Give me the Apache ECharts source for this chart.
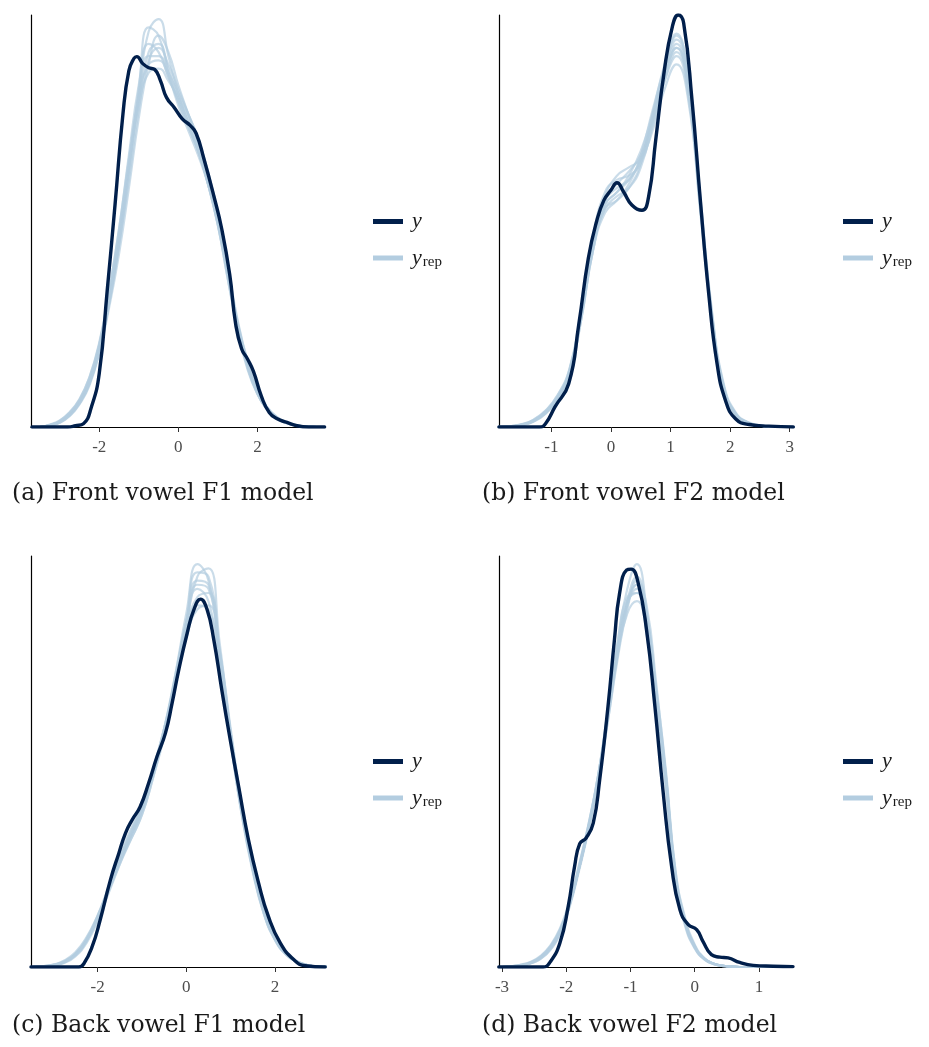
<!DOCTYPE html>
<html>
<head>
<meta charset="utf-8">
<title>Posterior predictive density overlays</title>
<script src="https://cdn.jsdelivr.net/npm/echarts@6/dist/echarts.min.js"></script>
<style>
  html, body { margin: 0; padding: 0; background: #ffffff; }
  #chart { width: 929px; height: 1047px; }
</style>
</head>
<body>
<div id="chart"></div>
<script>
// ---------- Panel (a): front vowel F1 ----------
const xA_obs = [-3.7,-2.8,-2.6,-2.4,-2.2,-2.0,-1.8,-1.6,-1.4,-1.25,-1.12,-1.05,-0.9,-0.75,-0.6,-0.45,-0.3,-0.1,0.1,0.3,0.45,0.65,0.9,1.1,1.3,1.45,1.6,1.75,1.9,2.1,2.3,2.5,2.75,3.0,3.3,3.7];
const dA_obs = [0,0,0.003,0.008,0.048,0.13,0.33,0.54,0.76,0.865,0.895,0.899,0.882,0.872,0.868,0.84,0.80,0.775,0.748,0.732,0.713,0.65,0.56,0.48,0.37,0.25,0.19,0.165,0.135,0.075,0.035,0.02,0.011,0.003,0,0];
const gridA = [-3.5,-3.25,-3.0,-2.75,-2.5,-2.25,-2.0,-1.75,-1.5,-1.25,-1.0,-0.75,-0.5,-0.25,0,0.25,0.5,0.75,1.0,1.25,1.5,1.75,2.0,2.25,2.5,2.75,3.0,3.25,3.5];
const repA = [
  [0,0.004,0.012,0.03,0.06,0.11,0.19,0.31,0.45,0.62,0.79,0.91,0.93,0.87,0.80,0.74,0.68,0.60,0.50,0.37,0.245,0.15,0.085,0.045,0.022,0.01,0.004,0.001,0],
  [0,0.003,0.01,0.026,0.055,0.10,0.18,0.30,0.44,0.62,0.81,0.96,0.99,0.90,0.81,0.74,0.67,0.59,0.49,0.37,0.25,0.155,0.088,0.046,0.022,0.01,0.004,0.001,0],
  [0,0.006,0.016,0.036,0.068,0.12,0.20,0.32,0.47,0.64,0.78,0.86,0.87,0.84,0.80,0.75,0.69,0.61,0.51,0.38,0.25,0.15,0.083,0.043,0.021,0.009,0.003,0.001,0],
  [0,0.004,0.013,0.032,0.063,0.115,0.20,0.33,0.48,0.66,0.83,0.93,0.91,0.85,0.79,0.73,0.67,0.59,0.49,0.36,0.235,0.14,0.08,0.042,0.02,0.009,0.003,0.001,0],
  [0,0.003,0.011,0.028,0.058,0.105,0.18,0.29,0.42,0.58,0.75,0.88,0.95,0.91,0.83,0.76,0.69,0.61,0.51,0.38,0.255,0.16,0.09,0.048,0.024,0.011,0.004,0.001,0],
  [0,0.005,0.014,0.033,0.064,0.115,0.195,0.31,0.46,0.63,0.80,0.90,0.90,0.86,0.81,0.76,0.70,0.62,0.51,0.375,0.245,0.145,0.08,0.042,0.02,0.009,0.003,0.001,0],
  [0,0.004,0.012,0.029,0.058,0.105,0.185,0.30,0.45,0.63,0.82,0.97,0.95,0.86,0.78,0.72,0.66,0.59,0.50,0.375,0.25,0.155,0.087,0.046,0.022,0.01,0.004,0.001,0],
  [0,0.004,0.011,0.028,0.057,0.105,0.185,0.30,0.44,0.60,0.77,0.89,0.92,0.88,0.82,0.76,0.70,0.62,0.52,0.39,0.26,0.16,0.09,0.047,0.023,0.01,0.004,0.001,0],
  [0,0.005,0.015,0.035,0.066,0.12,0.205,0.33,0.48,0.65,0.80,0.88,0.89,0.85,0.79,0.73,0.67,0.59,0.49,0.36,0.24,0.145,0.082,0.043,0.021,0.009,0.003,0.001,0]
];
const ticksA = [-2, 0, 2];

// ---------- Panel (b): front vowel F2 ----------
const xB_obs = [-1.88,-1.2,-1.1,-0.94,-0.71,-0.54,-0.38,-0.24,-0.12,0,0.1,0.21,0.35,0.52,0.63,0.75,0.89,1.03,1.13,1.22,1.36,1.5,1.64,1.78,1.92,2.09,2.32,2.65,3.06];
const dB_obs = [0,0,0.008,0.049,0.105,0.25,0.41,0.50,0.55,0.575,0.593,0.571,0.539,0.526,0.558,0.696,0.86,0.972,1.0,0.98,0.793,0.55,0.324,0.154,0.065,0.02,0.006,0.002,0];
const gridB = [-1.9,-1.7,-1.5,-1.3,-1.1,-0.9,-0.7,-0.5,-0.3,-0.1,0.1,0.3,0.5,0.7,0.9,1.1,1.3,1.5,1.7,1.9,2.1,2.3,2.5,2.7,2.9,3.1];
const repB = [
  [0,0.001,0.005,0.015,0.035,0.07,0.13,0.27,0.44,0.54,0.57,0.60,0.65,0.75,0.86,0.93,0.82,0.54,0.26,0.09,0.03,0.01,0.004,0.001,0,0],
  [0,0.002,0.007,0.018,0.04,0.077,0.14,0.28,0.45,0.55,0.59,0.62,0.66,0.74,0.84,0.90,0.80,0.53,0.265,0.095,0.032,0.011,0.004,0.001,0,0],
  [0,0.001,0.004,0.013,0.032,0.066,0.125,0.26,0.43,0.53,0.55,0.58,0.64,0.76,0.88,0.955,0.84,0.545,0.255,0.088,0.029,0.01,0.003,0.001,0,0],
  [0,0.002,0.006,0.016,0.037,0.072,0.135,0.28,0.46,0.57,0.60,0.61,0.64,0.73,0.84,0.91,0.82,0.55,0.27,0.095,0.031,0.011,0.004,0.001,0,0],
  [0,0.001,0.005,0.014,0.034,0.068,0.128,0.265,0.43,0.52,0.55,0.59,0.66,0.77,0.87,0.94,0.84,0.55,0.26,0.088,0.028,0.009,0.003,0.001,0,0],
  [0,0.001,0.005,0.015,0.036,0.071,0.13,0.27,0.44,0.55,0.58,0.60,0.65,0.75,0.85,0.92,0.83,0.56,0.275,0.1,0.034,0.012,0.004,0.001,0,0],
  [0,0.002,0.006,0.017,0.039,0.075,0.138,0.275,0.45,0.56,0.61,0.63,0.65,0.72,0.82,0.88,0.79,0.52,0.25,0.085,0.028,0.01,0.003,0.001,0,0],
  [0,0.001,0.004,0.014,0.033,0.067,0.126,0.26,0.43,0.53,0.56,0.58,0.63,0.74,0.87,0.95,0.85,0.54,0.255,0.087,0.029,0.01,0.003,0.001,0,0],
  [0,0.001,0.005,0.015,0.035,0.07,0.132,0.27,0.44,0.54,0.57,0.61,0.67,0.76,0.86,0.92,0.81,0.53,0.26,0.09,0.03,0.01,0.004,0.001,0,0]
];
const ticksB = [-1, 0, 1, 2, 3];

// ---------- Panel (c): back vowel F1 ----------
const xC_obs = [-3.5,-2.42,-2.31,-2.12,-1.94,-1.71,-1.52,-1.37,-1.22,-1.04,-0.85,-0.66,-0.47,-0.32,-0.17,0.02,0.17,0.32,0.47,0.62,0.8,0.99,1.18,1.4,1.63,1.85,2.12,2.42,2.68,3.13];
const dC_obs = [0,0,0.008,0.05,0.115,0.212,0.277,0.326,0.358,0.39,0.447,0.512,0.569,0.642,0.723,0.812,0.869,0.895,0.869,0.796,0.674,0.553,0.439,0.31,0.204,0.123,0.058,0.018,0.003,0];
const gridC = [-3.5,-3.25,-3.0,-2.75,-2.5,-2.25,-2.0,-1.75,-1.5,-1.25,-1.0,-0.75,-0.5,-0.25,0,0.25,0.5,0.75,1.0,1.25,1.5,1.75,2.0,2.25,2.5,2.75,3.0,3.25];
const repC = [
  [0,0.001,0.004,0.012,0.03,0.065,0.12,0.19,0.26,0.32,0.38,0.47,0.57,0.70,0.83,0.93,0.92,0.76,0.56,0.38,0.24,0.135,0.07,0.032,0.013,0.004,0.001,0],
  [0,0.002,0.006,0.016,0.036,0.072,0.125,0.19,0.255,0.31,0.37,0.46,0.57,0.71,0.86,0.98,0.94,0.75,0.55,0.37,0.235,0.13,0.067,0.03,0.012,0.004,0.001,0],
  [0,0.001,0.004,0.011,0.028,0.062,0.118,0.195,0.27,0.335,0.39,0.48,0.58,0.70,0.81,0.88,0.87,0.74,0.56,0.39,0.25,0.14,0.072,0.033,0.013,0.004,0.001,0],
  [0,0.001,0.005,0.013,0.031,0.066,0.12,0.185,0.25,0.31,0.37,0.46,0.56,0.69,0.83,0.95,0.97,0.79,0.57,0.38,0.235,0.13,0.066,0.03,0.012,0.004,0.001,0],
  [0,0.002,0.005,0.014,0.033,0.069,0.125,0.195,0.265,0.33,0.39,0.47,0.57,0.70,0.84,0.92,0.89,0.74,0.55,0.375,0.24,0.135,0.07,0.032,0.013,0.004,0.001,0],
  [0,0.001,0.004,0.012,0.029,0.063,0.117,0.185,0.255,0.32,0.38,0.47,0.58,0.71,0.84,0.94,0.93,0.77,0.57,0.385,0.245,0.14,0.072,0.033,0.013,0.004,0.001,0],
  [0,0.001,0.003,0.01,0.026,0.058,0.11,0.18,0.25,0.32,0.39,0.48,0.58,0.69,0.80,0.87,0.88,0.77,0.58,0.395,0.25,0.14,0.073,0.034,0.014,0.005,0.001,0],
  [0,0.002,0.005,0.013,0.031,0.066,0.122,0.19,0.26,0.32,0.38,0.47,0.57,0.70,0.84,0.96,0.95,0.76,0.55,0.37,0.23,0.128,0.065,0.03,0.012,0.004,0.001,0],
  [0,0.001,0.004,0.012,0.03,0.064,0.12,0.19,0.26,0.325,0.385,0.47,0.57,0.70,0.82,0.90,0.91,0.77,0.57,0.385,0.245,0.138,0.071,0.032,0.013,0.004,0.001,0]
];
const ticksC = [-2, 0, 2];

// ---------- Panel (d): back vowel F2 ----------
const xD_obs = [-3.05,-2.36,-2.26,-2.1,-1.97,-1.87,-1.79,-1.69,-1.58,-1.48,-1.35,-1.25,-1.17,-1.06,-0.99,-0.88,-0.75,-0.62,-0.49,-0.36,-0.23,-0.1,0.03,0.13,0.26,0.39,0.52,0.7,0.91,1.22,1.53];
const dD_obs = [0,0,0.01,0.058,0.147,0.245,0.30,0.314,0.35,0.455,0.634,0.796,0.909,0.966,0.968,0.934,0.82,0.634,0.423,0.245,0.139,0.103,0.091,0.062,0.03,0.024,0.022,0.011,0.004,0.002,0.001];
const gridD = [-3.0,-2.85,-2.7,-2.55,-2.4,-2.25,-2.1,-1.95,-1.8,-1.65,-1.5,-1.35,-1.2,-1.05,-0.9,-0.75,-0.6,-0.45,-0.3,-0.15,0,0.15,0.3,0.45,0.6,0.75,0.9,1.05,1.2,1.35,1.5];
const repD = [
  [0,0.001,0.004,0.01,0.022,0.045,0.085,0.15,0.24,0.34,0.46,0.61,0.77,0.89,0.93,0.84,0.66,0.46,0.22,0.11,0.05,0.02,0.008,0.003,0.001,0,0,0,0,0,0],
  [0,0.002,0.005,0.012,0.025,0.05,0.09,0.155,0.245,0.345,0.465,0.62,0.79,0.92,0.98,0.87,0.66,0.44,0.21,0.1,0.045,0.018,0.007,0.002,0.001,0,0,0,0,0,0],
  [0,0.001,0.003,0.009,0.02,0.042,0.082,0.148,0.24,0.345,0.47,0.62,0.76,0.86,0.89,0.82,0.66,0.47,0.235,0.12,0.055,0.022,0.008,0.003,0.001,0,0,0,0,0,0],
  [0,0.001,0.004,0.01,0.023,0.047,0.088,0.152,0.24,0.34,0.455,0.60,0.76,0.89,0.95,0.86,0.67,0.46,0.225,0.11,0.05,0.02,0.008,0.003,0.001,0,0,0,0,0,0],
  [0,0.002,0.006,0.013,0.027,0.052,0.093,0.16,0.25,0.35,0.47,0.62,0.78,0.89,0.91,0.81,0.63,0.44,0.21,0.105,0.048,0.019,0.007,0.002,0.001,0,0,0,0,0,0],
  [0,0.001,0.003,0.009,0.02,0.041,0.08,0.145,0.235,0.335,0.455,0.61,0.77,0.88,0.93,0.86,0.68,0.48,0.235,0.115,0.052,0.021,0.008,0.003,0.001,0,0,0,0,0,0],
  [0,0.001,0.004,0.011,0.024,0.048,0.087,0.15,0.24,0.34,0.46,0.60,0.75,0.87,0.94,0.88,0.69,0.47,0.225,0.11,0.05,0.02,0.008,0.003,0.001,0,0,0,0,0,0],
  [0,0.002,0.005,0.011,0.024,0.047,0.087,0.153,0.245,0.35,0.47,0.63,0.79,0.90,0.91,0.82,0.64,0.45,0.215,0.105,0.047,0.019,0.007,0.002,0.001,0,0,0,0,0,0],
  [0,0.001,0.004,0.01,0.022,0.045,0.085,0.15,0.24,0.34,0.46,0.61,0.765,0.88,0.92,0.85,0.67,0.465,0.225,0.112,0.05,0.02,0.008,0.003,0.001,0,0,0,0,0,0]
];
const ticksD = [-3, -2, -1, 0, 1];

// Sub-figure captions
const captions = ['(a) Front vowel F1 model', '(b) Front vowel F2 model', '(c) Back vowel F1 model', '(d) Back vowel F2 model'];

// ---------- layout & styling ----------
const DARK = '#011f4b';
const LIGHT = '#b3cde0';
const panels = [
  { obsX: xA_obs, obsD: dA_obs, grid: gridA, reps: repA, ticks: ticksA, range: [-3.726, 3.71],  box: { left: 31,  top: 15,  width: 294, height: 412 }, legendLeft: 368, legendTop: 205.5 },
  { obsX: xB_obs, obsD: dB_obs, grid: gridB, reps: repB, ticks: ticksB, range: [-1.88, 3.055], box: { left: 499, top: 15,  width: 294, height: 412 }, legendLeft: 838, legendTop: 205.5 },
  { obsX: xC_obs, obsD: dC_obs, grid: gridC, reps: repC, ticks: ticksC, range: [-3.5, 3.126],  box: { left: 31,  top: 556, width: 294, height: 411 }, legendLeft: 368, legendTop: 745.5 },
  { obsX: xD_obs, obsD: dD_obs, grid: gridD, reps: repD, ticks: ticksD, range: [-3.047, 1.53], box: { left: 499, top: 556, width: 294, height: 411 }, legendLeft: 838, legendTop: 745.5 }
];
const captionPos = [[12, 482], [482, 482], [12, 1014], [482, 1014]];

const grids = [], xAxes = [], yAxes = [], series = [], legends = [];

panels.forEach((p, k) => {
  grids.push(Object.assign({ containLabel: false }, p.box));
  xAxes.push({
    type: 'value', gridIndex: k, min: p.range[0], max: p.range[1],
    axisLine: { show: true, onZero: false, lineStyle: { color: '#000', width: 1.2 } },
    axisTick: { show: true, length: 5, customValues: p.ticks, lineStyle: { color: '#333', width: 1 } },
    axisLabel: {
      show: true, customValues: p.ticks, margin: 12,
      color: '#4d4d4d', fontFamily: 'Liberation Serif', fontSize: 17,
      formatter: v => (v < 0 ? '-' + Math.abs(v) : String(v))
    },
    splitLine: { show: false }
  });
  yAxes.push({
    type: 'value', gridIndex: k, min: 0, max: 1,
    axisLine: { show: true, onZero: false, lineStyle: { color: '#000', width: 1.2 } },
    axisTick: { show: false }, axisLabel: { show: false }, splitLine: { show: false }
  });
  // replicated densities: thin light lines that overlap into a band
  p.reps.forEach(rep => {
    series.push({
      type: 'line', name: 'yrep', xAxisIndex: k, yAxisIndex: k,
      data: p.grid.map((x, i) => [x, rep[i]]),
      showSymbol: false, smooth: 0.5, silent: true,
      color: LIGHT,
      lineStyle: { color: LIGHT, width: 2.2, opacity: 0.7 },
      z: 2
    });
  });
  // observed density on top
  series.push({
    type: 'line', name: 'y', xAxisIndex: k, yAxisIndex: k,
    data: p.obsX.map((x, i) => [x, p.obsD[i]]),
    showSymbol: false, smooth: 0.5, silent: true,
    color: DARK,
    lineStyle: { color: DARK, width: 3.4, cap: 'round', join: 'round' },
    z: 3
  });
  legends.push({
    left: p.legendLeft, top: p.legendTop, orient: 'vertical',
    icon: 'rect', itemWidth: 30, itemHeight: 5, itemGap: 14,
    selectedMode: false,
    itemStyle: { borderWidth: 0 },
    data: [
      { name: 'y', itemStyle: { color: DARK } },
      { name: 'yrep', itemStyle: { color: LIGHT } }
    ],
    formatter: name => (name === 'y' ? '{i|y}' : '{i|y}{s|rep}'),
    textStyle: {
      rich: {
        i: { fontFamily: 'Liberation Serif', fontStyle: 'italic', fontSize: 22, color: '#1a1a1a', lineHeight: 24, padding: [0, 0, 0, 4] },
        s: { fontFamily: 'Liberation Serif', fontSize: 15, color: '#1a1a1a', lineHeight: 24, padding: [8, 0, 0, 1] }
      }
    }
  });
});

const graphics = captions.map((t, k) => ({
  type: 'text', left: captionPos[k][0], top: captionPos[k][1],
  style: { text: t, font: '23.5px "DejaVu Serif"', fill: '#1a1a1a' }
}));

const chart = echarts.init(document.getElementById('chart'), null, { renderer: 'canvas' });
chart.setOption({
  animation: false,
  backgroundColor: '#ffffff',
  grid: grids,
  xAxis: xAxes,
  yAxis: yAxes,
  legend: legends,
  series: series,
  graphic: graphics
});
</script>
</body>
</html>
